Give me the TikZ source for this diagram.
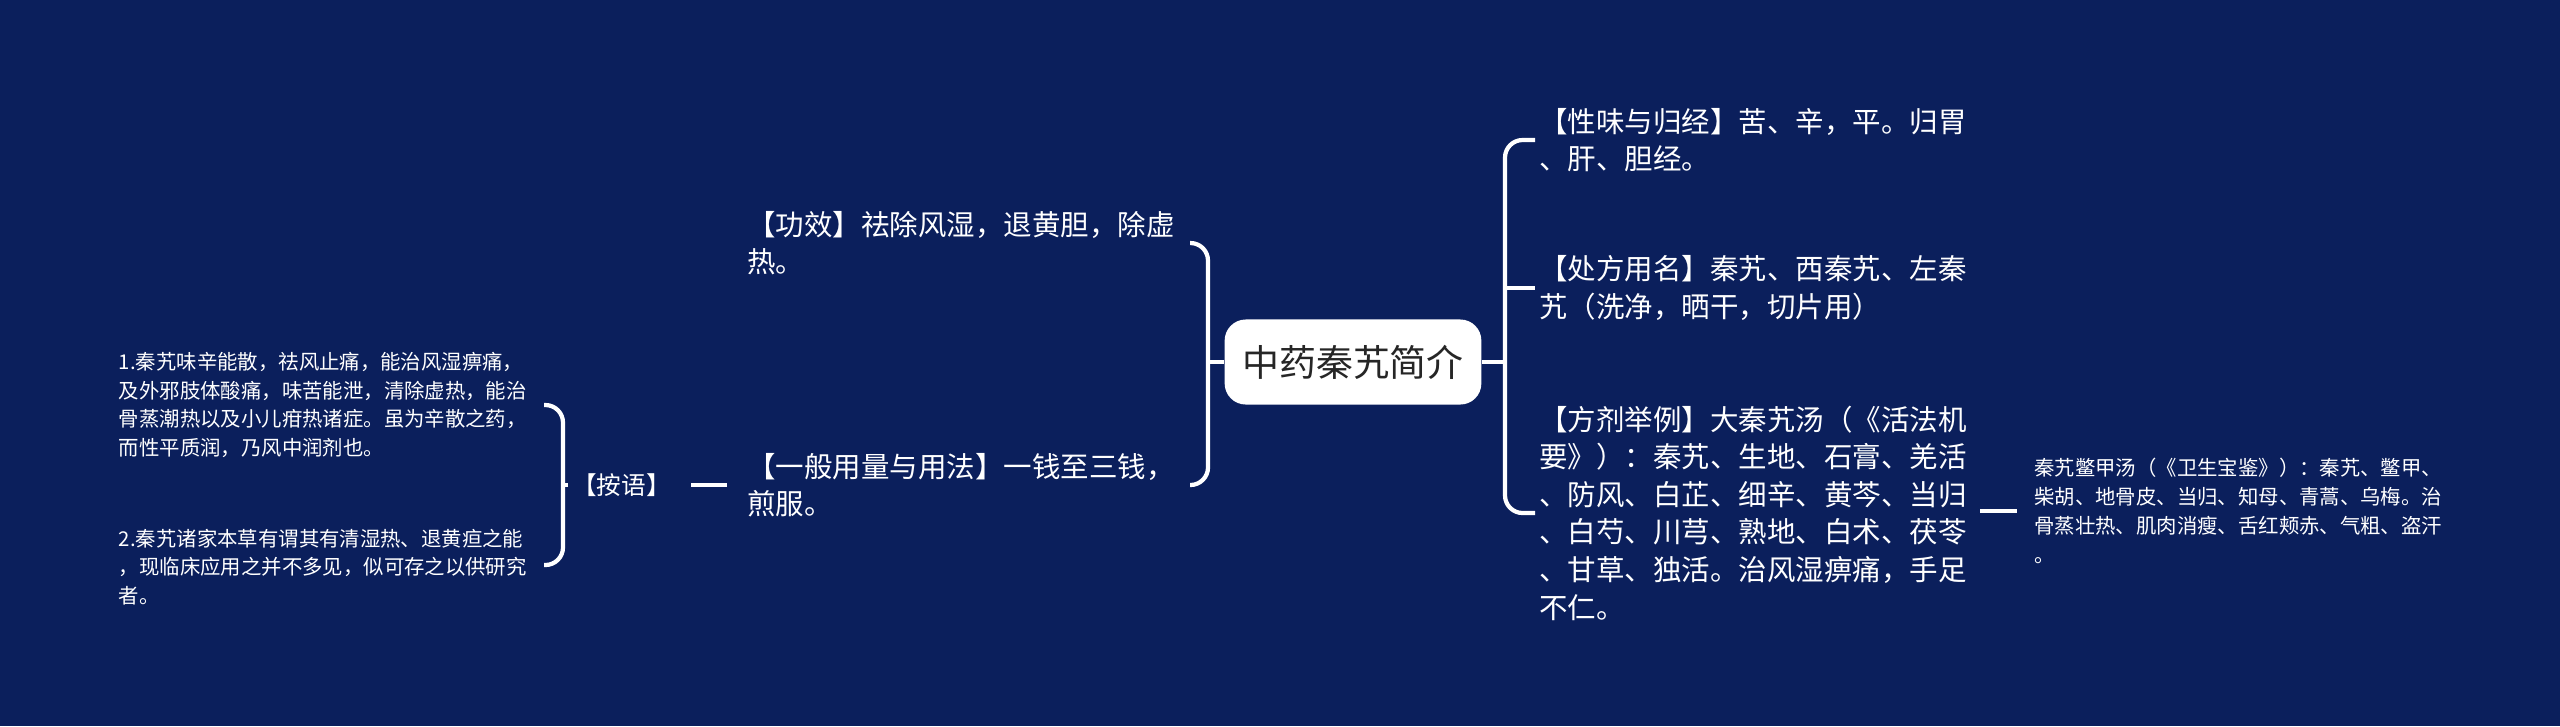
\documentclass[tikz,border=0pt]{standalone}
\usepackage{fontspec}
\setmainfont{Noto Sans CJK SC}
\usetikzlibrary{positioning}
\definecolor{bgnavy}{HTML}{0B1F5C}
\tikzset{
  topic/.style={fill=white, rounded corners=6pt, text=black!85, font=\fontsize{10.5}{12}\selectfont, inner xsep=5pt, minimum height=0.85cm},
  item/.style={text=white, align=left, font=\fontsize{8.1}{10.7}\selectfont, inner sep=1pt},
  note/.style={text=white, align=left, font=\fontsize{5.8}{8.2}\selectfont, inner sep=1pt},
  link/.style={draw=white, line width=1.2pt, rounded corners=5pt}
}
\begin{document}
\begin{tikzpicture}[x=0.01cm, y=-0.01cm]
            \fill[bgnavy] (0,0) rectangle (2560,726);

            % Center node
            \node[topic] (root) at (1353,362) {中药秦艽简介};

            % Right side
            \node[item, anchor=west] (xw) at (1535,140) {【性味与归经】苦、辛，平。归胃\\、肝、胆经。};
            \node[item, anchor=west] (cf) at (1535,288) {【处方用名】秦艽、西秦艽、左秦\\艽（洗净，晒干，切片用）};
            \node[item, anchor=west] (fj) at (1535,513) {【方剂举例】大秦艽汤（《活法机\\要》）：秦艽、生地、石膏、羌活\\、防风、白芷、细辛、黄芩、当归\\、白芍、川芎、熟地、白术、茯苓\\、甘草、独活。治风湿痹痛，手足\\不仁。};
            \node[note, anchor=west] (bj) at (2030,511) {秦艽鳖甲汤（《卫生宝鉴》）：秦艽、鳖甲、\\柴胡、地骨皮、当归、知母、青蒿、乌梅。治\\骨蒸壮热、肌肉消瘦、舌红颊赤、气粗、盗汗\\。};
            \coordinate (bjin) at (2017,511);
            \draw[link] (root.east) -- (1505,362);
            \draw[link] (xw.west) -- (1505,140) -- (1505,513) -- (fj.west);
            \draw[link] (1505,288) -- (cf.west);
            \draw[link] (1980,511) -- (bjin);

            % Left side
            \node[item, anchor=west] (gx) at (743,243) {【功效】祛除风湿，退黄胆，除虚\\热。};
            \node[item, anchor=west] (yl) at (743,485) {【一般用量与用法】一钱至三钱，\\煎服。};
            \node[note, anchor=east, font=\fontsize{7}{9}\selectfont] (ay) at (675,485) {【按语】};
            \node[note, anchor=east] (a1) at (531,405) {1.秦艽味辛能散，祛风止痛，能治风湿痹痛，\\及外邪肢体酸痛，味苦能泄，清除虚热，能治\\骨蒸潮热以及小儿疳热诸症。虽为辛散之药，\\而性平质润，乃风中润剂也。};
            \node[note, anchor=east] (a2) at (531,567) {2.秦艽诸家本草有谓其有清湿热、退黄疸之能\\，现临床应用之并不多见，似可存之以供研究\\者。};
            \draw[link] (root.west) -- (1208,362);
            \draw[link] (1190,243) -- (1208,243) -- (1208,485) -- (1190,485);
            \draw[link] (691,485) -- (727,485);
            \draw[link] (ay.west) -- (563,485);
            \draw[link] (544,405) -- (563,405) -- (563,565) -- (544,565);
\end{tikzpicture}
\end{document}
